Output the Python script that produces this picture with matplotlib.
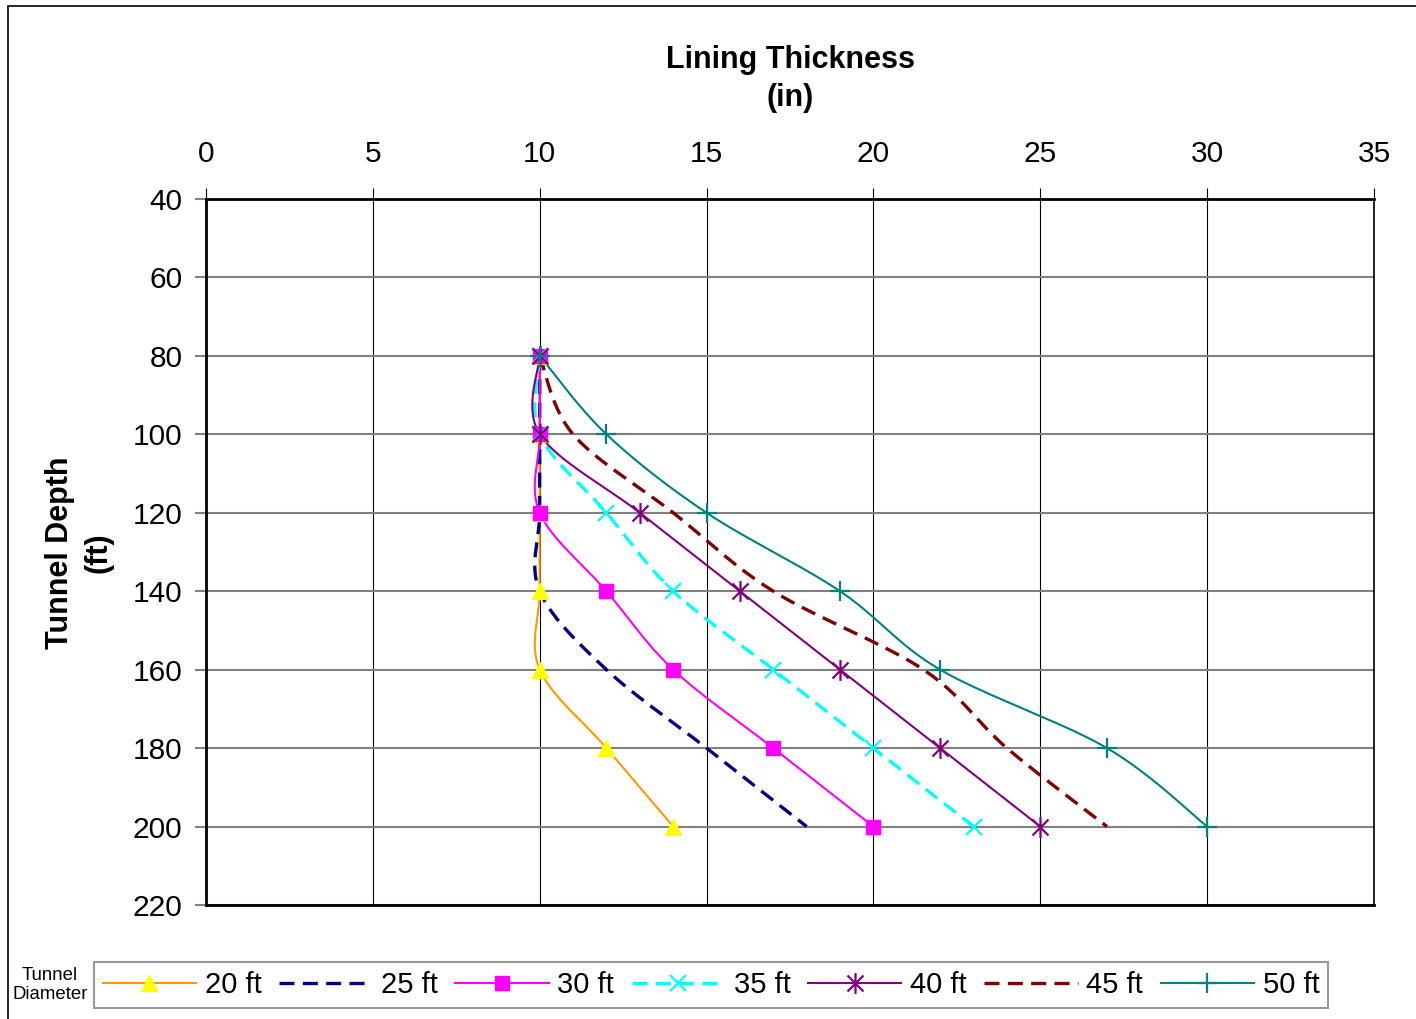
import numpy as np
import matplotlib.pyplot as plt
from matplotlib.path import Path

plt.rcParams['font.family'] = ['Liberation Sans', 'DejaVu Sans']

# tunnel depth (ft) at each design point
depth = [80, 100, 120, 140, 160, 180, 200]

# lining thickness (in) per tunnel diameter
t20 = [10, 10, 10, 10, 10, 12, 14]
t25 = [10, 10, 10, 10, 12, 15, 18]
t30 = [10, 10, 10, 12, 14, 17, 20]
t35 = [10, 10, 12, 14, 17, 20, 23]
t40 = [10, 10, 13, 16, 19, 22, 25]
t45 = [10, 11, 14, 17, 21.5, 24, 27]
t50 = [10, 12, 15, 19, 22, 27, 30]

labels = ['20 ft', '25 ft', '30 ft', '35 ft', '40 ft', '45 ft', '50 ft']
x_ticks = [0, 5, 10, 15, 20, 25, 30, 35]
y_ticks = [40, 60, 80, 100, 120, 140, 160, 180, 200, 220]

W, H = 1416, 1019


def smooth(xs, ys, n=24):
    # spreadsheet-style bezier smoothing through every point
    p = np.column_stack([xs, ys]).astype(float)
    out = [p[0]]
    for i in range(len(p) - 1):
        a = p[i - 1] if i > 0 else p[i]
        d = p[i + 2] if i + 2 < len(p) else p[i + 1]
        c1 = p[i] + (p[i + 1] - a) / 6
        c2 = p[i + 1] - (d - p[i]) / 6
        t = np.linspace(0, 1, n)[1:, None]
        seg = ((1 - t) ** 3 * p[i] + 3 * (1 - t) ** 2 * t * c1
               + 3 * (1 - t) * t ** 2 * c2 + t ** 3 * p[i + 1])
        out.extend(seg)
    out = np.array(out)
    return out[:, 0], out[:, 1]


# asterisk marker: x with a vertical bar
star = Path([(-1, -1), (1, 1), (-1, 1), (1, -1), (0, -1.3), (0, 1.3)],
            [Path.MOVETO, Path.LINETO, Path.MOVETO, Path.LINETO,
             Path.MOVETO, Path.LINETO])

dash = (0, (4.5, 2.5))
series = [
    (t20, dict(color='#FF9900', ls='-', lw=1.5), dict(marker='^', ms=11.5, mfc='#FFFF00', mec='#FFFF00')),
    (t25, dict(color='#000080', ls=dash, lw=2.4), None),
    (t30, dict(color='#FF00FF', ls='-', lw=1.5), dict(marker='s', ms=10, mfc='#FF00FF', mec='#FF00FF')),
    (t35, dict(color='#00FFFF', ls=dash, lw=2.4), dict(marker='x', ms=12, mec='#00FFFF', mew=1.6)),
    (t40, dict(color='#800080', ls='-', lw=1.5), dict(marker=star, ms=15, mec='#800080', mew=1.6)),
    (t45, dict(color='#800000', ls=dash, lw=2.4), None),
    (t50, dict(color='#008080', ls='-', lw=1.5), dict(marker='+', ms=14, mec='#008080', mew=1.6)),
]

fig = plt.figure(figsize=(W / 100, H / 100), dpi=100)
ax = fig.add_axes([206 / W, 1 - 905 / H, (1374 - 206) / W, (905 - 199) / H])

handles = []
for vals, lstyle, mstyle in series:
    sx, sy = smooth(vals, depth)
    ax.plot(sx, sy, zorder=3, **lstyle)
    if mstyle:
        ax.plot(vals, depth, ls='none', zorder=4, **mstyle)
        handles.append(plt.Line2D([], [], **lstyle, **mstyle))
    else:
        handles.append(plt.Line2D([], [], **lstyle))

ax.set_xlim(0, 35)
ax.set_ylim(220, 40)
ax.set_xticks(x_ticks)
ax.set_yticks(y_ticks)
ax.xaxis.tick_top()
ax.tick_params(labelsize=21.5, length=8)
ax.tick_params(axis='x', width=0.8, color='black', pad=14)
ax.tick_params(axis='y', width=1.5, color='#808080', pad=9)
ax.xaxis.grid(True, color='black', lw=0.8)
ax.yaxis.grid(True, color='#808080', lw=1.5)
for side, w in [('top', 2), ('bottom', 2), ('left', 2), ('right', 1.2)]:
    ax.spines[side].set_linewidth(w)
    ax.spines[side].set_color('black')

fig.text(790 / W, 1 - 79 / H, 'Lining Thickness\n(in)', fontsize=22,
         fontweight='bold', ha='center', va='center', linespacing=1.35)
fig.text(79 / W, 1 - 553 / H, 'Tunnel Depth\n(ft)', fontsize=22,
         fontweight='bold', ha='center', va='center', rotation=90,
         linespacing=1.35)

leg = fig.legend(handles, labels, ncol=7, loc='center',
                 bbox_to_anchor=(711 / W, 1 - 985 / H), fontsize=21,
                 frameon=True, fancybox=False, edgecolor='#808080',
                 handlelength=3.2, handletextpad=0.3, columnspacing=0.6,
                 borderpad=0.3, borderaxespad=0)
leg.get_frame().set_linewidth(1.5)
fig.text(50 / W, 1 - 985 / H, 'Tunnel\nDiameter', fontsize=13.4,
         ha='center', va='center', linespacing=1.2)

# chart border
fig.add_artist(plt.Rectangle((7.5 / W, -0.1), 1.2, 1.1 - 5.5 / H,
                             transform=fig.transFigure, fill=False,
                             edgecolor='black', lw=1.2))

fig.savefig('out.png', dpi=100)
